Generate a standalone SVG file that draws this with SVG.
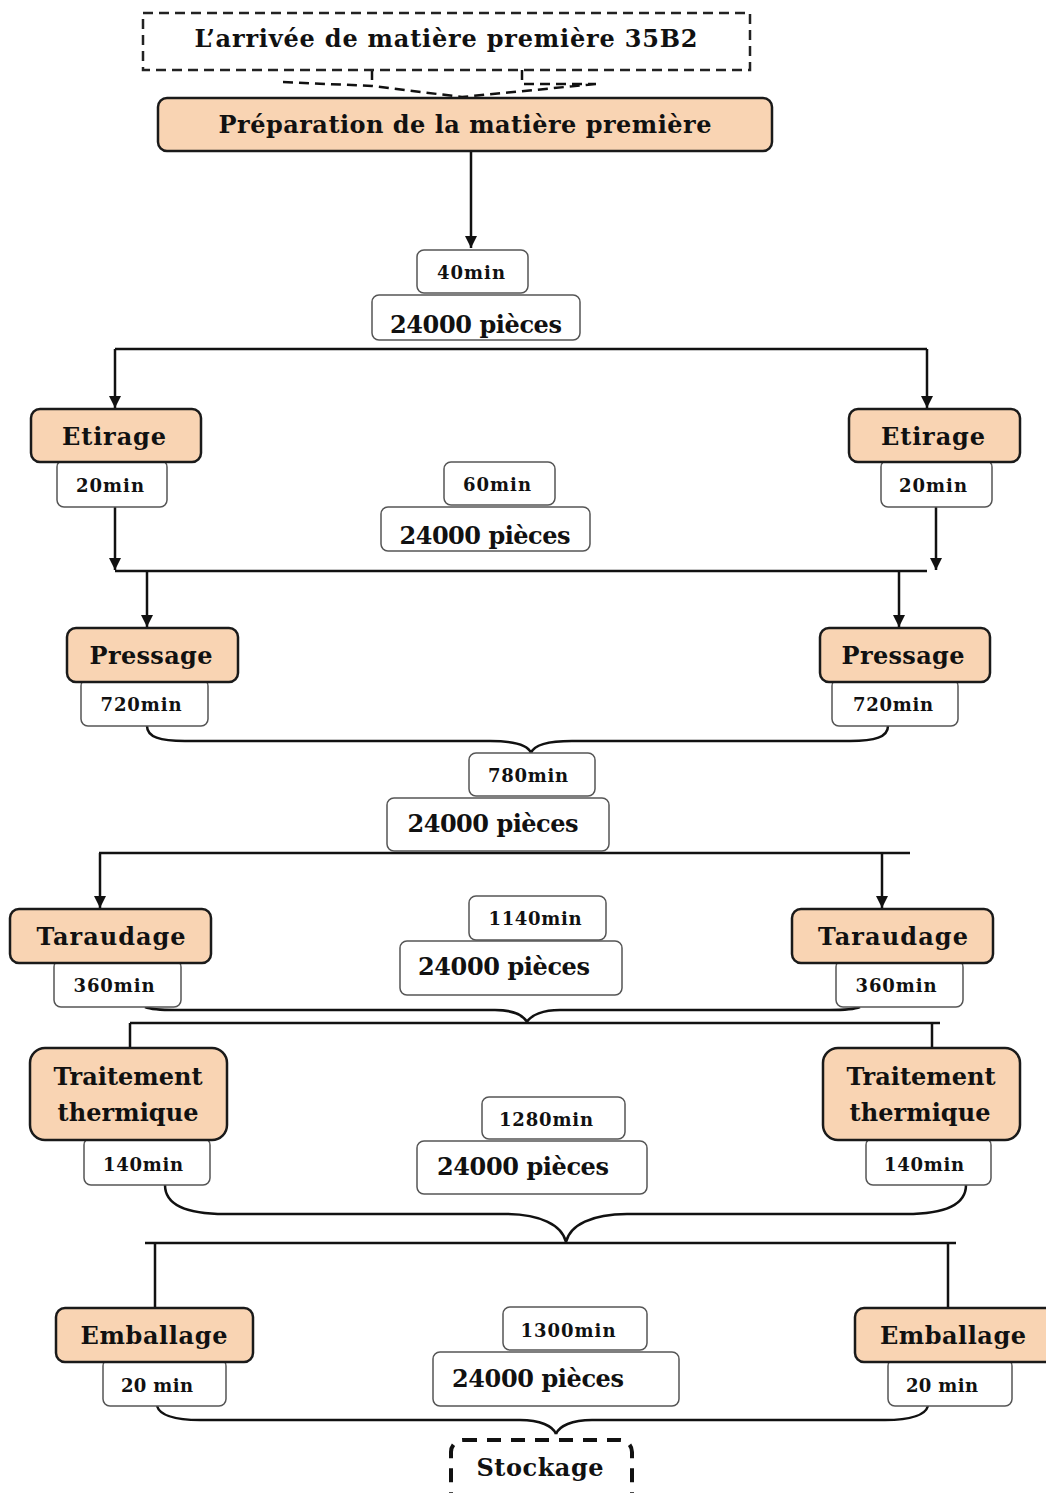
<svg xmlns="http://www.w3.org/2000/svg" width="1046" height="1493" viewBox="0 0 1046 1493">
<style>
.node{fill:#F9D4B3;stroke:#1a1a1a;stroke-width:2.5}
.lbl{fill:#fff;stroke:#555;stroke-width:1.5}
.dash{fill:none;stroke:#222;stroke-width:2.5;stroke-dasharray:10 6}
.t{font-family:"DejaVu Serif","Liberation Serif",serif;font-weight:bold;fill:#111;text-anchor:middle}
.big{font-size:24px}
.sm{font-size:18px}
.ln{fill:none;stroke:#111;stroke-width:2.5}
.ar{fill:none;stroke:#111;stroke-width:2.5;marker-end:url(#ah)}
</style>
<defs>
<marker id="ah" viewBox="0 0 10 10" refX="10" refY="5" markerWidth="5" markerHeight="5" markerUnits="strokeWidth" orient="auto">
<path d="M0,0 L10,5 L0,10 z" fill="#111"/>
</marker>
<clipPath id="c1"><rect x="372" y="295" width="208" height="44"/></clipPath>
<clipPath id="c2"><rect x="381" y="507" width="209" height="43"/></clipPath>
</defs>
<rect width="1046" height="1493" fill="#fff"/>

<g id="connectors">
<path class="ln" style="stroke-dasharray:10 6" d="M372,70 V84 M283,82 L372,86 L462,97 L596,84 M522,70 V84 H596"/>
<path class="ar" d="M471,151 V248"/>
<path class="ln" d="M115,349 H927"/>
<path class="ar" d="M115,349 V408"/>
<path class="ar" d="M927,349 V408"/>
<path class="ar" d="M115,507 V570"/>
<path class="ar" d="M936,507 V570"/>
<path class="ln" d="M115,571 H927"/>
<path class="ar" d="M147,571 V627"/>
<path class="ar" d="M899,571 V627"/>
<path class="ln" d="M147,726 C147,737 160,741 185,741 H490 C515,741 528,745 531,753 M888,726 C888,737 875,741 850,741 H572 C547,741 534,745 531,753"/>
<path class="ln" d="M99,853 H910"/>
<path class="ar" d="M100,853 V908"/>
<path class="ar" d="M882,853 V908"/>
<path class="ln" d="M145,1007 C150,1009 158,1010 175,1010 H495 C512,1010 523,1015 527,1022 M860,1007 C855,1009 847,1010 830,1010 H560 C543,1010 531,1015 527,1022"/>
<path class="ln" d="M130,1023 H940"/>
<path class="ln" d="M130,1023 V1048 M932,1023 V1048"/>
<path class="ln" d="M165,1185 C165,1205 185,1214 225,1214 H505 C540,1214 562,1225 566,1242 M966,1185 C966,1205 946,1214 906,1214 H627 C592,1214 570,1225 566,1242"/>
<path class="ln" d="M145,1243 H956"/>
<path class="ln" d="M155,1243 V1308 M948,1243 V1308"/>
<path class="ln" d="M157,1406 C160,1416 175,1420 200,1420 H520 C540,1420 553,1426 556,1434 M928,1406 C925,1416 910,1420 885,1420 H592 C572,1420 559,1426 556,1434"/>
</g>

<g id="arrivee">
<rect class="dash" x="143" y="13" width="607" height="57"/>
<text class="t big" x="446" y="47" textLength="503" lengthAdjust="spacing">L’arrivée de matière première 35B2</text>
</g>
<g id="preparation">
<rect class="node" x="158" y="98" width="614" height="53" rx="9"/>
<text class="t big" x="465" y="133" textLength="493" lengthAdjust="spacing">Préparation de la matière première</text>
</g>
<g id="t40">
<rect class="lbl" x="417" y="250" width="111" height="43" rx="7"/>
<text class="t sm" x="471" y="279" textLength="68" lengthAdjust="spacing">40min</text>
</g>
<g id="p1">
<rect class="lbl" x="372" y="295" width="208" height="45" rx="7"/>
<text class="t big" x="476" y="333" textLength="172" lengthAdjust="spacing" clip-path="url(#c1)">24000 pièces</text>
</g>

<g id="etirage-l">
<rect class="lbl" x="57" y="460" width="110" height="47" rx="7"/>
<rect class="node" x="31" y="409" width="170" height="53" rx="9"/>
<text class="t big" x="114" y="445" textLength="104" lengthAdjust="spacing">Etirage</text>
<text class="t sm" x="110" y="492" textLength="68" lengthAdjust="spacing">20min</text>
</g>
<g id="etirage-r">
<rect class="lbl" x="881" y="460" width="111" height="47" rx="7"/>
<rect class="node" x="849" y="409" width="171" height="53" rx="9"/>
<text class="t big" x="933" y="445" textLength="104" lengthAdjust="spacing">Etirage</text>
<text class="t sm" x="933" y="492" textLength="68" lengthAdjust="spacing">20min</text>
</g>
<g id="t60">
<rect class="lbl" x="444" y="462" width="111" height="43" rx="7"/>
<text class="t sm" x="497" y="491" textLength="68" lengthAdjust="spacing">60min</text>
</g>
<g id="p2">
<rect class="lbl" x="381" y="507" width="209" height="44" rx="7"/>
<text class="t big" x="485" y="544" textLength="171" lengthAdjust="spacing" clip-path="url(#c2)">24000 pièces</text>
</g>

<g id="pressage-l">
<rect class="lbl" x="81" y="679" width="127" height="47" rx="7"/>
<rect class="node" x="67" y="628" width="171" height="54" rx="9"/>
<text class="t big" x="151" y="664" textLength="123" lengthAdjust="spacing">Pressage</text>
<text class="t sm" x="141" y="711" textLength="81" lengthAdjust="spacing">720min</text>
</g>
<g id="pressage-r">
<rect class="lbl" x="832" y="679" width="126" height="47" rx="7"/>
<rect class="node" x="820" y="628" width="170" height="54" rx="9"/>
<text class="t big" x="903" y="664" textLength="123" lengthAdjust="spacing">Pressage</text>
<text class="t sm" x="893" y="711" textLength="80" lengthAdjust="spacing">720min</text>
</g>
<g id="t780">
<rect class="lbl" x="469" y="753" width="126" height="43" rx="7"/>
<text class="t sm" x="528" y="782" textLength="80" lengthAdjust="spacing">780min</text>
</g>
<g id="p3">
<rect class="lbl" x="387" y="798" width="222" height="53" rx="7"/>
<text class="t big" x="493" y="832" textLength="171" lengthAdjust="spacing">24000 pièces</text>
</g>

<g id="taraudage-l">
<rect class="lbl" x="54" y="960" width="127" height="47" rx="7"/>
<rect class="node" x="10" y="909" width="201" height="54" rx="9"/>
<text class="t big" x="111" y="945" textLength="149" lengthAdjust="spacing">Taraudage</text>
<text class="t sm" x="114" y="992" textLength="81" lengthAdjust="spacing">360min</text>
</g>
<g id="taraudage-r">
<rect class="lbl" x="836" y="960" width="127" height="47" rx="7"/>
<rect class="node" x="792" y="909" width="201" height="54" rx="9"/>
<text class="t big" x="893" y="945" textLength="150" lengthAdjust="spacing">Taraudage</text>
<text class="t sm" x="896" y="992" textLength="81" lengthAdjust="spacing">360min</text>
</g>
<g id="t1140">
<rect class="lbl" x="469" y="896" width="137" height="44" rx="7"/>
<text class="t sm" x="535" y="925" textLength="93" lengthAdjust="spacing">1140min</text>
</g>
<g id="p4">
<rect class="lbl" x="400" y="941" width="222" height="54" rx="7"/>
<text class="t big" x="504" y="975" textLength="172" lengthAdjust="spacing">24000 pièces</text>
</g>

<g id="traitement-l">
<rect class="lbl" x="84" y="1138" width="126" height="47" rx="7"/>
<rect class="node" x="30" y="1048" width="197" height="92" rx="15"/>
<text class="t big" x="128" y="1085" textLength="149" lengthAdjust="spacing">Traitement</text>
<text class="t big" x="128" y="1121" textLength="141" lengthAdjust="spacing">thermique</text>
<text class="t sm" x="143" y="1171" textLength="80" lengthAdjust="spacing">140min</text>
</g>
<g id="traitement-r">
<rect class="lbl" x="866" y="1138" width="125" height="47" rx="7"/>
<rect class="node" x="823" y="1048" width="197" height="92" rx="15"/>
<text class="t big" x="921" y="1085" textLength="149" lengthAdjust="spacing">Traitement</text>
<text class="t big" x="920" y="1121" textLength="141" lengthAdjust="spacing">thermique</text>
<text class="t sm" x="924" y="1171" textLength="80" lengthAdjust="spacing">140min</text>
</g>
<g id="t1280">
<rect class="lbl" x="482" y="1097" width="143" height="42" rx="7"/>
<text class="t sm" x="546" y="1126" textLength="94" lengthAdjust="spacing">1280min</text>
</g>
<g id="p5">
<rect class="lbl" x="417" y="1141" width="230" height="53" rx="7"/>
<text class="t big" x="523" y="1175" textLength="172" lengthAdjust="spacing">24000 pièces</text>
</g>

<g id="emballage-l">
<rect class="lbl" x="103" y="1359" width="123" height="47" rx="7"/>
<rect class="node" x="56" y="1308" width="197" height="54" rx="9"/>
<text class="t big" x="154" y="1344" textLength="147" lengthAdjust="spacing">Emballage</text>
<text class="t sm" x="157" y="1392" textLength="72" lengthAdjust="spacing">20 min</text>
</g>
<g id="emballage-r">
<rect class="lbl" x="888" y="1359" width="124" height="47" rx="7"/>
<rect class="node" x="855" y="1308" width="200" height="54" rx="9"/>
<text class="t big" x="953" y="1344" textLength="146" lengthAdjust="spacing">Emballage</text>
<text class="t sm" x="942" y="1392" textLength="72" lengthAdjust="spacing">20 min</text>
</g>
<g id="t1300">
<rect class="lbl" x="503" y="1307" width="144" height="43" rx="7"/>
<text class="t sm" x="568" y="1337" textLength="95" lengthAdjust="spacing">1300min</text>
</g>
<g id="p6">
<rect class="lbl" x="433" y="1352" width="246" height="54" rx="7"/>
<text class="t big" x="538" y="1387" textLength="172" lengthAdjust="spacing">24000 pièces</text>
</g>

<g id="stockage">
<rect x="451" y="1440" width="181" height="70" rx="12" style="fill:#fff;stroke:#111;stroke-width:4;stroke-dasharray:14 10"/>
<text class="t big" x="540" y="1476" textLength="127" lengthAdjust="spacing">Stockage</text>
</g>
</svg>
